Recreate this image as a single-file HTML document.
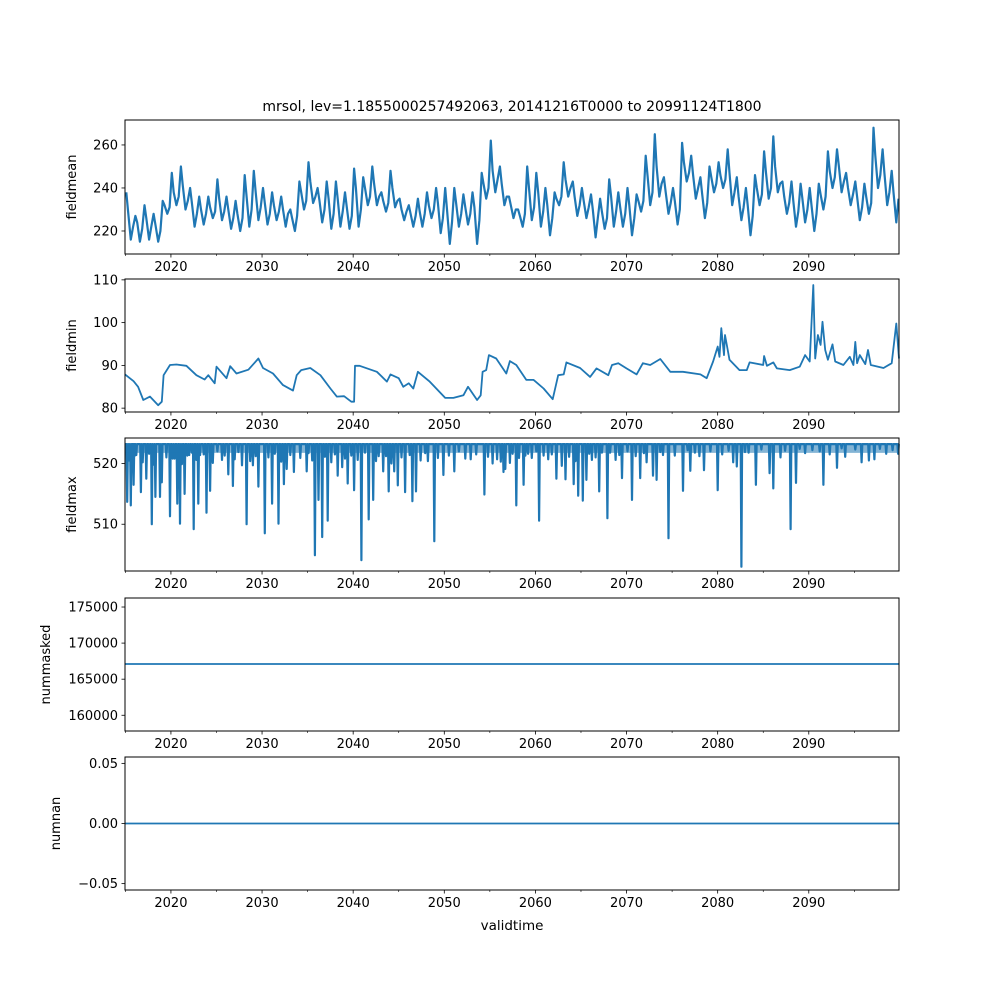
<!DOCTYPE html>
<html><head><meta charset="utf-8"><style>
html,body{margin:0;padding:0;background:#fff}
svg{display:block;font-family:"DejaVu Sans","Liberation Sans",sans-serif}
</style></head><body>
<svg id="chart" width="1000" height="1000" viewBox="0 0 1000 1000">
<rect width="1000" height="1000" fill="#fff"/>
<text x="512" y="111" font-size="14" text-anchor="middle">mrsol, lev=1.1855000257492063, 20141216T0000 to 20991124T1800</text>
<text x="512" y="930" font-size="13.5" text-anchor="middle">validtime</text>
</svg>
<script>
const xTickLabels = ["2020","2030","2040","2050","2060","2070","2080","2090"];
const xTickYears = [2020,2030,2040,2050,2060,2070,2080,2090];
const xMinorYears = [2015,2025,2035,2045,2055,2065,2075,2085,2095];

const meanPeaks = [238,227,232,228,234,247,250,240,236,236,244,236,234,246,248,240,238,236,230,243,252,240,243,243,238,249,245,250,238,248,235,232,235,238,240,240,240,237,238,247,262,250,236,230,250,247,240,238,252,243,240,237,235,244,238,240,237,255,265,245,240,261,255,245,250,252,258,245,240,246,257,264,243,243,242,240,242,257,258,247,243,242,268,258,248];
const meanShoulders = [229,224,226,223,232,238,241,233,230,231,235,230,228,236,238,233,232,230,226,238,243,234,235,235,231,240,240,242,234,240,230,228,229,232,233,230,233,231,231,242,248,242,232,227,240,238,232,235,244,236,234,230,229,236,231,232,234,246,250,238,234,252,246,237,245,246,247,236,232,240,247,250,236,234,235,232,237,248,250,240,236,236,255,247,238];
const meanTroughs = [216,215,216,215,228,232,230,222,223,226,225,221,220,222,225,223,225,222,220,230,233,224,221,222,221,222,232,232,229,231,225,222,222,226,219,214,222,223,214,235,238,232,226,222,225,222,218,232,236,227,226,217,221,222,222,218,229,232,236,228,223,243,235,226,238,240,232,225,218,232,235,238,228,222,224,220,230,240,238,232,225,228,240,232,224];
const meanRises = [222,221,222,220,231,236,234,228,228,229,229,226,226,230,231,228,229,228,227,234,236,230,228,229,227,230,236,236,233,234,229,227,228,230,226,224,228,228,225,240,244,236,230,228,231,229,226,236,240,232,231,226,226,229,228,226,234,238,242,233,230,247,240,233,242,244,238,231,227,237,240,242,233,229,230,228,236,245,243,237,231,233,246,238,235];

const minYears = [2014.96,2015.9,2016.4,2016.97,2017.7,2018.6,2019.0,2019.2,2019.9,2020.6,2021.7,2022.8,2023.7,2024.1,2024.8,2025.0,2026.1,2026.5,2027.2,2028.5,2029.6,2030.1,2031.2,2032.3,2033.4,2033.8,2034.3,2035.3,2036.4,2037.5,2038.2,2039.0,2039.8,2040.1,2040.2,2040.7,2042.6,2043.7,2044.1,2045.0,2045.5,2046.1,2046.6,2047.1,2048.4,2050.1,2051.0,2052.1,2052.6,2053.6,2054.0,2054.2,2054.6,2054.9,2055.7,2056.8,2057.2,2057.9,2059.0,2059.8,2060.9,2061.9,2062.5,2063.1,2063.4,2064.9,2066.0,2066.7,2068.0,2068.4,2069.1,2070.0,2071.1,2071.8,2072.6,2073.7,2074.8,2076.2,2078.1,2078.8,2079.5,2080.0,2080.2,2080.4,2080.7,2080.8,2081.3,2082.4,2083.2,2083.5,2085.0,2085.1,2085.4,2086.1,2086.5,2087.9,2089.0,2089.6,2090.1,2090.5,2090.7,2091.0,2091.3,2091.5,2091.8,2092.1,2092.6,2092.9,2093.8,2094.5,2094.9,2095.1,2095.3,2095.6,2096.2,2096.5,2096.8,2098.2,2099.1,2099.6,2099.9];
const minValues = [87.9,86.3,85,81.9,82.7,80.7,81.5,87.7,90.1,90.2,89.9,87.7,86.7,87.7,85.8,89.7,87,89.8,88.1,89,91.6,89.4,88.1,85.4,84.1,87.7,88.9,89.4,87.7,84.6,82.7,82.8,81.5,81.5,89.9,89.9,88.5,86.2,87.9,87,85,85.8,84.6,88.5,86.2,82.4,82.4,83,85,81.9,83,88.5,88.9,92.4,91.6,88.1,91,90.1,86.6,86.6,84.6,82.1,87.7,87.9,90.7,89.4,87.3,89.3,87.7,90.1,90.5,89.3,87.9,90.5,90.1,91.5,88.5,88.5,87.9,87,90.9,94.4,92,98.7,92.4,97.1,91.3,88.9,88.9,90.7,90.1,92.2,89.9,90.7,89.3,88.9,89.7,92.4,90.9,108.8,91.6,97.1,94.8,100.2,93.6,91.3,94.9,90.9,90.1,92,90.1,95.5,90.5,92.4,90.3,93.6,90.1,89.4,90.5,99.8,91.6];

const maxBaseline = [523.2];
const maxSpikeYears = [2015.2,2015.6,2015.9,2016.2,2016.7,2017.3,2017.9,2018.3,2018.8,2019.0,2019.9,2020.2,2020.7,2021.0,2021.5,2022.0,2022.5,2023.0,2023.2,2023.9,2024.3,2025.1,2025.6,2026.3,2026.8,2027.8,2028.3,2029.0,2029.6,2030.3,2031.1,2031.8,2032.4,2032.7,2033.5,2034.9,2035.8,2036.2,2036.6,2037.2,2038.3,2038.8,2039.4,2040.1,2040.9,2041.7,2042.2,2042.8,2043.3,2043.9,2044.5,2044.9,2045.7,2046.5,2046.9,2048.2,2048.9,2049.9,2051.1,2052.9,2054.4,2055.3,2056.2,2056.7,2056.5,2057.2,2057.9,2058.7,2059.2,2059.6,2060.4,2060.9,2062.3,2062.9,2063.3,2064.2,2064.7,2065.2,2065.6,2066.2,2067.0,2067.9,2068.2,2069.5,2070.6,2071.5,2072.2,2072.9,2073.3,2074.0,2074.6,2076.2,2077.0,2078.0,2078.5,2080.0,2081.7,2082.1,2082.6,2083.4,2084.2,2085.7,2086.1,2086.9,2088.0,2088.6,2089.6,2091.6,2092.3,2093.1,2094.0,2095.8,2096.6,2097.2,2098.5,2099.8];
const maxSpikeValues = [513.7,513.1,516.5,521.4,515.3,517.5,510,514.5,514.5,516.9,511.3,520.8,513.4,510.1,515,521.4,509.2,513.4,521.4,511.9,515.5,522,520.6,518.2,516.3,519.7,510,519.7,516.2,508.5,513.4,510.1,516.6,519.1,518.6,518.7,504.9,514,507.9,510.6,518,519.4,516.7,515.6,504.1,510.8,514,521.2,518.7,515.4,518.7,516.4,515.3,513.8,515.4,520.4,507.2,518.1,518.7,520.7,514.9,520,520.3,519.1,518.6,520.1,513.1,516.5,521.6,520.9,510.6,521.3,517.5,519.6,517.4,516.6,514.7,513.9,517.3,520.6,515.4,511,521.8,517.6,514,517.6,520.2,518,517.3,521.4,507.7,515.5,518.8,521.2,518.9,515.6,520.2,519.5,503,521.8,516.5,518.4,515.9,521,509.2,516.8,521.7,516.5,521.5,519.3,521.1,520.2,520.5,520.7,521.6,521.6];
const maxSmallSpikeYears = [2015.4,2016.0,2016.9,2017.6,2018.1,2019.5,2020.4,2021.2,2021.8,2022.3,2022.8,2023.6,2024.6,2025.9,2027.0,2027.4,2028.7,2029.3,2030.7,2031.4,2032.1,2033.1,2034.2,2035.1,2035.5,2036.9,2037.6,2038.0,2039.1,2039.8,2040.5,2041.3,2042.5,2043.6,2044.2,2045.3,2046.2,2047.4,2047.9,2049.3,2050.5,2051.6,2052.3,2053.5,2054.8,2055.8,2057.5,2058.2,2058.9,2060.1,2061.4,2061.8,2063.7,2064.4,2065.9,2066.6,2067.3,2068.8,2069.2,2070.1,2071.0,2071.9,2073.7,2075.3,2076.7,2077.5,2079.2,2080.5,2081.2,2083.0,2084.8,2087.4,2089.0,2090.4,2091.2,2093.6,2095.1,2097.8,2099.2];
const maxSmallSpikeValues = [520.5,521.2,520.2,521.6,519.8,521.0,520.8,519.9,521.3,521.8,520.6,521.5,520.1,521.3,520.7,521.9,520.4,521.2,521.0,521.6,520.3,521.4,520.9,521.7,520.5,521.1,520.2,521.5,520.8,521.3,520.6,521.8,520.4,521.2,520.0,521.0,521.4,520.5,521.7,520.9,521.3,522.0,520.8,521.5,521.1,520.7,521.6,520.9,521.3,522.0,520.7,521.5,521.1,520.4,521.6,521.0,521.8,520.6,521.4,522.0,521.2,521.7,521.9,521.3,522.2,521.8,522.0,521.5,522.1,521.9,522.3,522.1,522.4,522.2,522.0,522.5,522.3,522.4,522.2];

const nummaskedValue = [167100];
const numnanValue = [0];

const X0 = 125, X1 = 899, T0 = 2014.96, T1 = 2099.9;
function xs(t){ return X0 + (t - T0) / (T1 - T0) * (X1 - X0); }
const NS = "http://www.w3.org/2000/svg";
const svg = document.getElementById('chart');
function el(tag, attrs, parent){ const e = document.createElementNS(NS, tag); for (const k in attrs) e.setAttribute(k, attrs[k]); (parent || svg).appendChild(e); return e; }

const panels = [
  {name:'fieldmean', top:120, bot:254, lo:209.3, hi:271.6, ticks:[220,240,260], fmt:v=>String(v), lx:76},
  {name:'fieldmin', top:279, bot:412, lo:79.1, hi:110.2, ticks:[80,90,100,110], fmt:v=>String(v), lx:76},
  {name:'fieldmax', top:438, bot:571, lo:502.3, hi:524.2, ticks:[510,520], fmt:v=>String(v), lx:76},
  {name:'nummasked', top:598, bot:731, lo:157820, hi:176250, ticks:[160000,165000,170000,175000], fmt:v=>String(v), lx:50},
  {name:'numnan', top:757, bot:890, lo:-0.0553, hi:0.0553, ticks:[-0.05,0,0.05], fmt:v=>(v<0?'\u2212':'')+Math.abs(v).toFixed(2), lx:60}
];
function ys(p, v){ return p.bot - (v - p.lo) / (p.hi - p.lo) * (p.bot - p.top); }

panels.forEach((p) => {
  const g = el('g', {});
  
  
  const pts = [];
  if (p.name === 'fieldmean') {
    for (let i = 0; i < meanPeaks.length; i++) {
      pts.push([xs(2015 + i + 0.1), ys(p, meanPeaks[i])]);
      pts.push([xs(2015 + i + 0.3), ys(p, meanShoulders[i])]);
      pts.push([xs(2015 + i + 0.6), ys(p, meanTroughs[i])]);
      pts.push([xs(2015 + i + 0.85), ys(p, meanRises[i])]);
    }
  } else if (p.name === 'fieldmin') {
    for (let i = 0; i < minYears.length; i++) pts.push([xs(minYears[i]), ys(p, minValues[i])]);
  } else if (p.name === 'fieldmax') {
    const b = ys(p, maxBaseline[0]);
    const sp = [];
    for (let i = 0; i < maxSpikeYears.length; i++) sp.push([maxSpikeYears[i], maxSpikeValues[i]]);
    for (let i = 0; i < maxSmallSpikeYears.length; i++) sp.push([maxSmallSpikeYears[i], maxSmallSpikeValues[i]]);
    sp.sort((a, c) => a[0] - c[0]);
    pts.push([X0, b]);
    sp.forEach(s => {
      const x = xs(s[0]);
      pts.push([x - 0.7, b]); pts.push([x, ys(p, s[1])]); pts.push([x + 0.7, b]);
    });
    pts.push([X1, b]);
  } else if (p.name === 'nummasked') {
    pts.push([X0, ys(p, nummaskedValue[0])]); pts.push([X1, ys(p, nummaskedValue[0])]);
  } else {
    pts.push([X0, ys(p, numnanValue[0])]); pts.push([X1, ys(p, numnanValue[0])]);
  }
  const sw = p.name === 'fieldmax' ? 2.2 : (p.name === 'fieldmean' ? 2.2 : 1.8);
  const line = el('polyline', {points: pts.map(q => q[0].toFixed(1) + ',' + q[1].toFixed(1)).join(' '), fill:'none', stroke:'#1f77b4', 'stroke-width': sw, 'stroke-linejoin':'round'}, g);
  
  
  if (p.name === 'fieldmax') {
    const band = el('line', {x1:X0, x2:X1, y1:ys(p, 522.4), y2:ys(p, 522.4), stroke:'#1f77b4', 'stroke-width':8, opacity:0.55}, g);
    
    
  }
  const frame = el('rect', {x:X0, y:p.top, width:X1 - X0, height:p.bot - p.top, fill:'none', stroke:'#000', 'stroke-width':1}, g);
  
  
  p.ticks.forEach(v => {
    const y = ys(p, v);
    el('line', {x1:X0 - 3.5, x2:X0, y1:y, y2:y, stroke:'#000', 'stroke-width':0.8}, g);
    const t = el('text', {x:X0 - 7, y:y + 4.5, 'font-size':13, 'text-anchor':'end'}, g);
    t.textContent = p.fmt(v);
    
    
  });
  xTickYears.forEach((yr, i) => {
    const x = xs(yr);
    el('line', {x1:x, x2:x, y1:p.bot, y2:p.bot + 3.5, stroke:'#000', 'stroke-width':0.8}, g);
    const t = el('text', {x:x, y:p.bot + 17, 'font-size':13, 'text-anchor':'middle'}, g);
    t.textContent = xTickLabels[i];
    
    
  });
  xMinorYears.forEach(yr => {
    const x = xs(yr);
    el('line', {x1:x, x2:x, y1:p.bot, y2:p.bot + 2, stroke:'#000', 'stroke-width':0.6}, g);
  });
  const cy = (p.top + p.bot) / 2;
  const lab = el('text', {x:p.lx, y:cy, 'font-size':13, 'text-anchor':'middle', transform:'rotate(-90 ' + p.lx + ' ' + cy + ')'}, g);
  lab.textContent = p.name;
  
  
});
</script>
</body></html>
